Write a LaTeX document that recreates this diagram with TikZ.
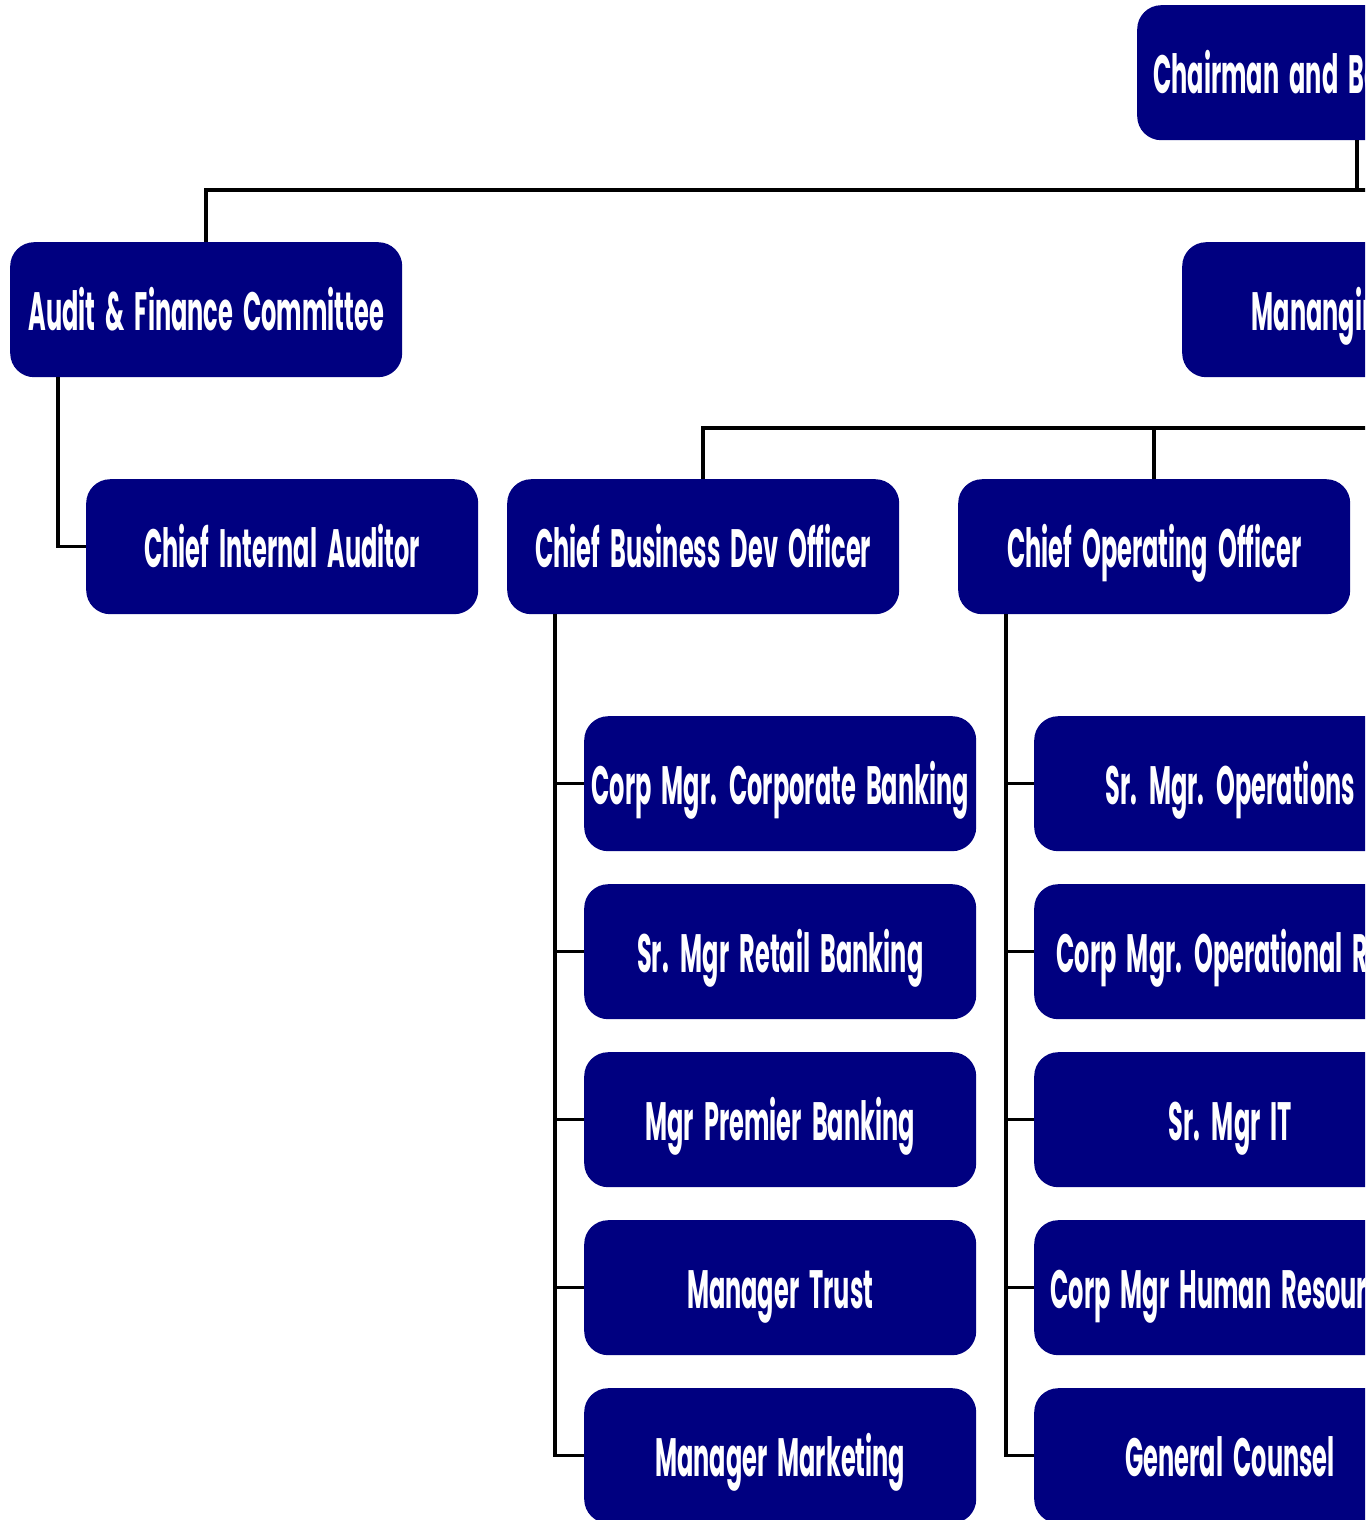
\documentclass[tikz,border=0pt]{standalone}
\usepackage{fontspec}
\newfontfamily\boxfont{Poppins}[FakeStretch=0.445,WordSpace=2]
\definecolor{navy}{RGB}{0,0,128}
\begin{document}
\begin{tikzpicture}[x=1pt,y=-1pt,
  orgbox/.style={rounded corners=24pt, fill=navy, text=white, minimum width=392pt,
    minimum height=135pt, inner sep=0pt, anchor=north west, text height=42pt, text depth=0pt,
    font=\boxfont\bfseries\fontsize{54}{58}\selectfont},
  link/.style={line width=3.5pt, black}]
\useasboundingbox (0,0) rectangle (1365,1520);
\clip (0,0) rectangle (1365,1520);
\fill[white] (0,0) rectangle (1365,1520);
% top level
\node[orgbox, minimum width=0pt, inner xsep=16pt] (chair) at (1137,5) {Chairman and Board of Directors};
\node[orgbox] (audit) at (10,242) {Audit \& Finance Committee};
\node[orgbox] (mgr) at (1182,242) {Mananging Director};
\node[orgbox] (cia) at (86,479) {Chief Internal Auditor};
\node[orgbox] (cbdo) at (507,479) {Chief Business Dev Officer};
\node[orgbox] (coo) at (958,479) {Chief Operating Officer};
% CBDO children
\node[orgbox] (b1) at (584,716) {Corp Mgr. Corporate Banking};
\node[orgbox] (b2) at (584,884) {Sr. Mgr Retail Banking};
\node[orgbox] (b3) at (584,1052) {Mgr Premier Banking};
\node[orgbox] (b4) at (584,1220) {Manager Trust};
\node[orgbox] (b5) at (584,1388) {Manager Marketing};
% COO children
\node[orgbox] (o1) at (1034,716) {Sr. Mgr. Operations};
\node[orgbox] (o2) at (1034,884) {Corp Mgr. Operational Risk};
\node[orgbox] (o3) at (1034,1052) {Sr. Mgr IT};
\node[orgbox] (o4) at (1034,1220) {Corp Mgr Human Resources};
\node[orgbox] (o5) at (1034,1388) {General Counsel};
% connectors
\coordinate (bus1) at (1357,190);
\coordinate (bus1r) at (1500,190);
\coordinate (bus2) at (1378,428);
\coordinate (bus2r) at (1500,428);
\draw[link] ([xshift=220pt]chair.south west) -- (bus1);
\draw[link] (audit.north) |- (bus1r);
\draw[link] (mgr.north) -- (mgr.north |- bus1);
\draw[link] (mgr.south) -- (bus2);
\draw[link] (cbdo.north) |- (bus2r);
\draw[link] (coo.north) -- (coo.north |- bus2);
\draw[link] ([xshift=48pt]audit.south west) |- (cia.west);
\draw[link] ([xshift=-29pt]b1.west |- cbdo.south) |- (b5.west);
\foreach \n in {b1,b2,b3,b4} \draw[link] (\n.west) -- ++(-29,0);
\draw[link] ([xshift=-28pt]o1.west |- coo.south) |- (o5.west);
\foreach \n in {o1,o2,o3,o4} \draw[link] (\n.west) -- ++(-28,0);
\end{tikzpicture}
\end{document}
